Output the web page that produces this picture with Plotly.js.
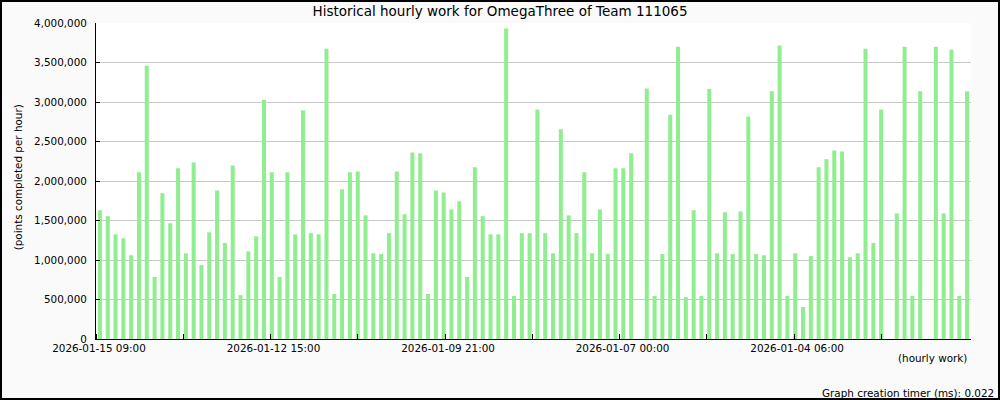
<!DOCTYPE html>
<html>
<head>
<meta charset="utf-8">
<script src="https://cdn.plot.ly/plotly-3.0.1.min.js"></script>
<style>
  html, body { margin: 0; padding: 0; background: #fafafa; }
  #chart { width: 1000px; height: 400px; }
</style>
</head>
<body>
<div id="chart"></div>
<script>
// Hourly work values, newest on the left (null = no data for that slot)
const hourlyPoints = [
  1630000, 1555000, 1325000, 1275000, 1060000, 2110000, 3460000, 785000, 1845000, 1465000,
  2160000, 1085000, 2235000, 935000, 1350000, 1880000, 1215000, 2195000, 555000, 1110000,
  1300000, 3030000, 2110000, 785000, 2110000, 1325000, 2895000, 1340000, 1325000, 3675000,
  570000, 1895000, 2110000, 2120000, 1565000, 1085000, 1075000, 1340000, 2120000, 1580000,
  2360000, 2350000, 570000, 1880000, 1855000, 1640000, 1745000, 785000, 2175000, 1555000,
  1325000, 1325000, 3930000, 545000, 1340000, 1340000, 2905000, 1340000, 1085000, 2655000,
  1565000, 1340000, 2110000, 1085000, 1640000, 1075000, 2160000, 2160000, 2350000, null,
  3170000, 545000, 1075000, 2840000, 3700000, 530000, 1630000, 545000, 3165000, 1085000,
  1605000, 1075000, 1615000, 2815000, 1075000, 1060000, 3135000, 3715000, 545000, 1085000,
  405000, 1050000, 2175000, 2275000, 2385000, 2375000, 1035000, 1085000, 3675000, 1215000,
  2905000, null, 1590000, 3700000, 545000, 3135000, null, 3700000, 1590000, 3660000,
  545000, 3135000
];

const tickLabels = [
  '2026-01-15 09:00', '2026-01-12 15:00', '2026-01-09 21:00',
  '2026-01-07 00:00', '2026-01-04 06:00'
];

const titleText = 'Historical hourly work for OmegaThree of Team 111065';
const yTitleText = '(points completed per hour)';
const xTitleText = '(hourly work)';
const footerText = 'Graph creation timer (ms): 0.022';

// slot index for each bar
const slots = hourlyPoints.map((_, i) => i);

// tick layout (positions in slot units)
const tickStep = 11.17;
const minorVals = [];
for (let k = 0; k < 10; k++) minorVals.push(-0.5 + tickStep * k);
const labelVals = tickLabels.map((_, k) => -0.5 + tickStep * 2 * k + 0.38);

const font = { family: 'DejaVu Sans, sans-serif', size: 10.4, color: '#000' };

const trace = {
  type: 'bar',
  x: slots,
  y: hourlyPoints,
  width: 0.52,
  marker: { color: '#90ee90', line: { width: 0 } },
  hoverinfo: 'y'
};

const layout = {
  width: 1000,
  height: 400,
  margin: { l: 96, r: 29, t: 23, b: 61, pad: 0 },
  paper_bgcolor: '#fafafa',
  plot_bgcolor: '#ffffff',
  font: font,
  showlegend: false,
  title: {
    text: titleText,
    font: { family: 'DejaVu Sans, sans-serif', size: 13.5, color: '#000' },
    xref: 'container', x: 0.5, xanchor: 'center',
    yref: 'container', y: 1 - 11 / 400, yanchor: 'middle'
  },
  xaxis: {
    type: 'linear',
    range: [-0.5, slots.length - 0.5],
    showgrid: false,
    zeroline: false,
    showline: true,
    linecolor: '#000',
    linewidth: 1,
    tickmode: 'array',
    tickvals: labelVals,
    ticktext: tickLabels,
    ticks: '',
    tickfont: font,
    minor: {
      tickmode: 'array',
      tickvals: minorVals,
      ticks: 'inside',
      ticklen: 5,
      tickwidth: 1,
      tickcolor: '#000',
      showgrid: false
    },
    fixedrange: true
  },
  yaxis: {
    range: [0, 4000000],
    tickmode: 'linear',
    tick0: 0,
    dtick: 500000,
    tickformat: ',d',
    showgrid: true,
    gridcolor: '#c8c8c8',
    gridwidth: 1,
    zeroline: false,
    showline: true,
    linecolor: '#000',
    linewidth: 1,
    ticks: 'inside',
    ticklen: 4,
    tickcolor: '#000',
    tickfont: font,
    ticklabelstandoff: 6,
    fixedrange: true
  },
  annotations: [
    {
      text: yTitleText, textangle: -90, showarrow: false,
      xref: 'paper', yref: 'paper',
      x: (17.5 - 96) / 875, y: 0.51,
      xanchor: 'center', yanchor: 'middle',
      font: font
    },
    {
      text: xTitleText, showarrow: false,
      xref: 'paper', yref: 'paper',
      x: (968.5 - 96) / 875, y: (339 - 358) / 316,
      xanchor: 'right', yanchor: 'middle',
      font: font
    },
    {
      text: footerText, showarrow: false,
      xref: 'paper', yref: 'paper',
      x: (995.5 - 96) / 875, y: (339 - 392.5) / 316,
      xanchor: 'right', yanchor: 'middle',
      font: font
    }
  ],
  shapes: [
    {
      type: 'rect', xref: 'paper', yref: 'paper', layer: 'above',
      x0: (1 - 96) / 875, x1: (999 - 96) / 875,
      y0: (339 - 399) / 316, y1: (339 - 1) / 316,
      line: { color: '#000', width: 2 }, fillcolor: 'rgba(0,0,0,0)'
    }
  ]
};

Plotly.newPlot('chart', [trace], layout, { displayModeBar: false, staticPlot: true });
</script>
</body>
</html>
